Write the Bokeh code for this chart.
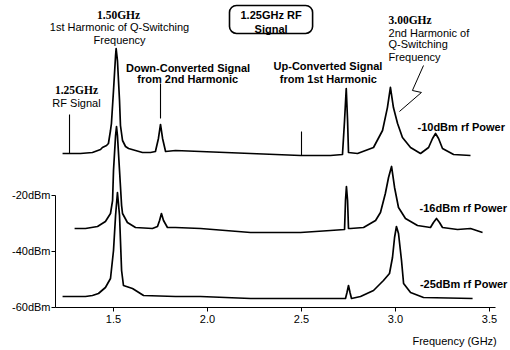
from bokeh.plotting import figure
from bokeh.models import Range1d, FixedTicker, Label, BoxAnnotation
from bokeh.embed import file_html
from bokeh.resources import INLINE

# ---- data (frequency in GHz, trace level in display dBm) ----
f_10 = [1.229, 1.324, 1.388, 1.431, 1.441, 1.463, 1.473, 1.484, 1.489, 1.500, 1.511, 1.514,
        1.521, 1.532, 1.537, 1.548, 1.564, 1.580, 1.617, 1.654, 1.697, 1.723, 1.739, 1.750,
        1.761, 1.777, 1.830, 1.963, 2.229, 2.495, 2.654, 2.718, 2.729, 2.738, 2.745, 2.750,
        2.798, 2.883, 2.931, 2.957, 2.973, 2.989, 3.011, 3.037, 3.080, 3.133, 3.176, 3.197,
        3.213, 3.229, 3.250, 3.309, 3.399]
p_10 = [-5.0, -5.0, -4.64, -3.57, -2.86, -2.14, -1.43, 3.21, 5.71, 17.5, 30.0, 32.5,
        28.2, 13.9, 5.0, -0.36, -2.5, -3.21, -3.93, -4.64, -4.64, -4.29, 0.36, 5.36,
        0.36, -4.29, -3.93, -4.29, -5.0, -5.71, -5.71, -5.36, 6.79, 18.2, 6.79, -4.64,
        -5.0, -2.86, 3.21, 11.4, 18.6, 11.4, 5.71, 0.71, -2.86, -5.0, -2.86, 0.36,
        2.14, 0.36, -3.21, -5.36, -5.71]

f_16 = [1.293, 1.351, 1.415, 1.457, 1.484, 1.495, 1.500, 1.511, 1.516, 1.521, 1.532, 1.543,
        1.548, 1.574, 1.617, 1.707, 1.734, 1.745, 1.755, 1.766, 1.787, 1.830, 1.963, 2.229,
        2.495, 2.654, 2.729, 2.734, 2.739, 2.745, 2.750, 2.761, 2.830, 2.894, 2.920, 2.946,
        2.963, 2.979, 2.995, 3.016, 3.053, 3.117, 3.186, 3.202, 3.218, 3.234, 3.250, 3.330,
        3.399, 3.463]
p_16 = [-31.79, -31.79, -31.07, -29.29, -26.43, -21.79, -11.07, 1.43, 4.64, 1.43, -11.07, -23.57,
        -26.43, -29.64, -31.43, -31.79, -31.07, -28.93, -26.43, -28.93, -31.43, -31.43, -31.79, -33.21,
        -33.21, -32.5, -32.14, -21.79, -16.79, -21.79, -31.79, -31.79, -31.43, -28.93, -26.07, -19.29,
        -13.57, -9.64, -17.14, -24.29, -28.21, -30.71, -31.43, -29.64, -28.21, -29.64, -31.43, -32.14,
        -31.79, -33.21]

f_25 = [1.229, 1.351, 1.388, 1.420, 1.457, 1.484, 1.500, 1.511, 1.521, 1.532, 1.543, 1.553,
        1.601, 1.660, 1.830, 1.963, 2.229, 2.495, 2.734, 2.742, 2.750, 2.758, 2.766, 2.814,
        2.883, 2.936, 2.968, 2.984, 2.995, 3.005, 3.016, 3.032, 3.043, 3.080, 3.149, 3.410]
p_25 = [-56.07, -56.07, -55.71, -55.0, -52.86, -49.64, -39.64, -27.14, -18.93, -27.14, -46.79, -52.14,
        -53.21, -55.71, -56.07, -56.07, -56.79, -56.79, -56.79, -54.64, -52.14, -54.64, -56.79, -56.07,
        -53.93, -50.36, -47.86, -42.14, -35.0, -31.07, -33.57, -43.21, -51.43, -54.64, -56.43, -56.79]

# marker lines (frequency, bottom level, top level)
mark_f = [1.266, 1.750, 2.500]
mark_lo = [-5.0, 7.5, -5.71]
mark_hi = [8.93, 20.0, 2.86]

# zig-zag pointer from the 3.00 GHz note
zig_f = [3.149, 3.090, 3.138, 3.021]
zig_p = [26.43, 17.5, 16.79, 10.0]

x_ticks = [1.5, 2.0, 2.5, 3.0, 3.5]
x_tick_labels = ["1.5", "2.0", "2.5", "3.0", "3.5"]
y_ticks = [-60, -40, -20]
y_tick_labels = ["-60dBm", "-40dBm", "-20dBm"]

SANS = "Liberation Sans"
SERIF = "Liberation Serif"

p = figure(width=510, height=350, output_backend="svg", toolbar_location=None,
           x_range=Range1d(0.8989, 3.6117), y_range=Range1d(-75.357, 49.64),
           min_border=0)
p.outline_line_color = None
p.grid.visible = False
p.background_fill_color = "white"
p.border_fill_color = "white"

for ax in (p.xaxis[0], p.yaxis[0]):
    ax.axis_line_color = "black"
    ax.axis_line_width = 1
    ax.major_tick_line_color = "black"
    ax.major_tick_in = 0
    ax.major_tick_out = 4
    ax.minor_tick_line_color = None
    ax.major_label_text_font = SANS
    ax.major_label_text_font_size = "11px"
    ax.major_label_text_color = "black"

p.xaxis.fixed_location = -60
p.xaxis.ticker = FixedTicker(ticks=x_ticks)
p.xaxis.major_label_overrides = dict(zip(x_ticks, x_tick_labels))
p.xaxis.bounds = (1.1915, 3.532)
p.xaxis.major_label_standoff = 4
p.yaxis.fixed_location = 1.1915
p.yaxis.ticker = FixedTicker(ticks=y_ticks)
p.yaxis.major_label_overrides = dict(zip(y_ticks, y_tick_labels))
p.yaxis.bounds = (-60, -20)
p.yaxis.major_label_standoff = 1

for fx, py in ((f_10, p_10), (f_16, p_16), (f_25, p_25)):
    p.line(fx, py, line_color="black", line_width=1.7, line_join="round")

p.segment(x0=mark_f, y0=mark_lo, x1=mark_f, y1=mark_hi, line_color="black", line_width=1.1)
p.line(zig_f, zig_p, line_color="black", line_width=1)

box = BoxAnnotation(left=2.117, right=2.559, bottom=37.86, top=47.86,
                    fill_color="white", fill_alpha=1, line_color="black", line_alpha=1,
                    line_width=1.6, border_radius=7)
p.add_layout(box)


def lab(x, y, text, align="center", bold=False, font=SANS, size="11px"):
    p.add_layout(Label(x=x, y=y, text=text, text_align=align, text_baseline="middle",
                       text_font=font, text_font_size=size, text_color="black",
                       text_font_style="bold" if bold else "normal"))


lab(1.527, 44.29, "1.50GHz", bold=True, font=SERIF, size="11.5px")
lab(1.532, 40.0, "1st Harmonic of Q-Switching")
lab(1.532, 35.36, "Frequency")

lab(1.303, 17.5, "1.25GHz", bold=True, font=SERIF, size="11.5px")
lab(1.303, 13.21, "RF Signal")

lab(1.905, 25.71, "Down-Converted  Signal", bold=True)
lab(1.895, 21.43, "from 2nd Harmonic", bold=True)

lab(2.338, 44.29, "1.25GHz RF", bold=True)
lab(2.338, 39.64, "Signal", bold=True)

lab(2.649, 26.07, "Up-Converted  Signal", bold=True)
lab(2.643, 21.43, "from 1st Harmonic", bold=True)

lab(2.963, 42.5, "3.00GHz", align="left", bold=True, font=SERIF, size="11.5px")
lab(2.963, 38.21, "2nd Harmonic of", align="left")
lab(2.963, 34.11, "Q-Switching", align="left")
lab(2.963, 29.64, "Frequency", align="left")

lab(3.117, 4.64, "-10dBm rf Power", align="left", bold=True)
lab(3.128, -24.64, "-16dBm rf Power", align="left", bold=True)
lab(3.130, -51.43, "-25dBm rf Power", align="left", bold=True)

lab(3.090, -71.79, "Frequency (GHz)", align="left")

open("out.html", "w").write(file_html(p, INLINE))
